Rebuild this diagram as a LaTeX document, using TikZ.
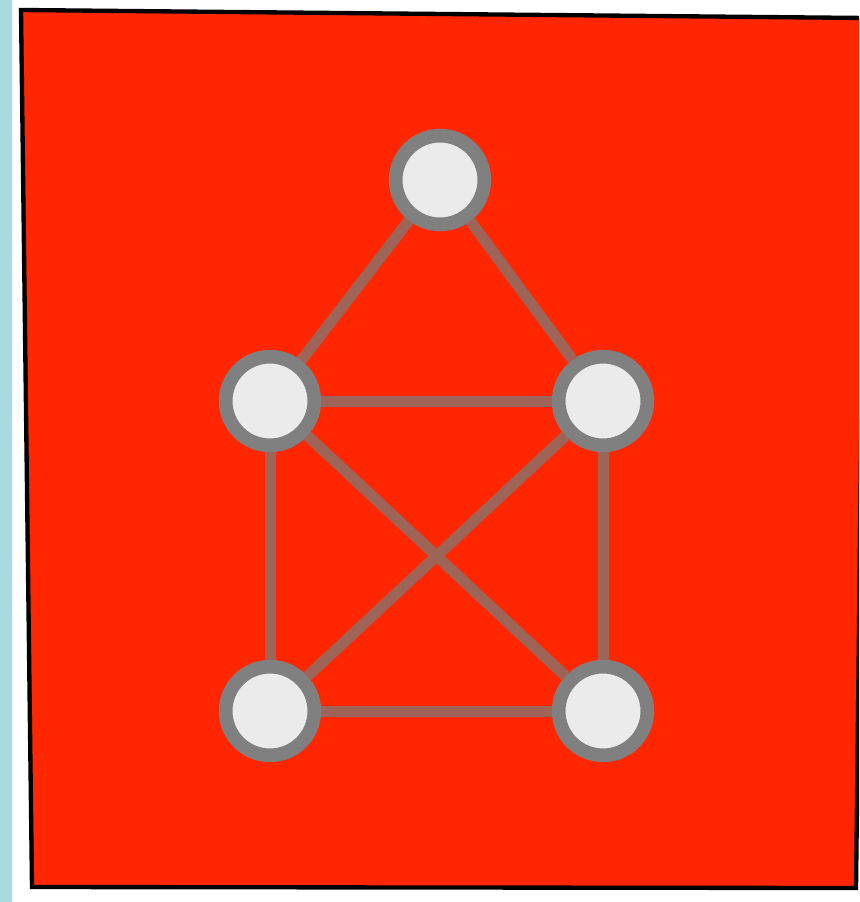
\documentclass[tikz,border=0pt]{standalone}
\usetikzlibrary{backgrounds}
\definecolor{sheetR}{RGB}{255,38,0}
\definecolor{ringG}{RGB}{128,128,128}
\definecolor{coreG}{RGB}{235,235,235}
\definecolor{edgeG}{RGB}{158,100,88}
\definecolor{stripB}{RGB}{170,218,224}
\tikzset{vert/.style={circle,draw=ringG,fill=coreG,line width=0.41cm,minimum size=2.66cm,inner sep=0pt},
  link/.style={edgeG,line width=0.33cm}}
\begin{document}
\begin{tikzpicture}[x={(0.03cm,0cm)},y={(0cm,-0.03cm)}]
\useasboundingbox (0,0) rectangle (859,902);
% nodes of the graph
\node[vert] (top) at (440,180) {};
\node[vert] (ml) at (270,401) {};
\node[vert] (mr) at (603,401) {};
\node[vert] (bl) at (270,711) {};
\node[vert] (br) at (603,711) {};
\begin{scope}[on background layer]
\clip (0,0) rectangle (859,902);
\fill[white] (0,0) rectangle (859,902);
\fill[stripB] (0,0) rectangle (12,902);
\fill[sheetR,draw=black,line width=0.13cm] (21,10)--(866,18)--(856,888)--(32,887)--cycle;
\draw[link] (top)--(ml); \draw[link] (top)--(mr);
\draw[link] (ml)--(mr); \draw[link] (bl)--(br);
\draw[link] (ml)--(bl); \draw[link] (mr)--(br);
\draw[link] (ml)--(br); \draw[link] (mr)--(bl);
\end{scope}
\end{tikzpicture}
\end{document}
